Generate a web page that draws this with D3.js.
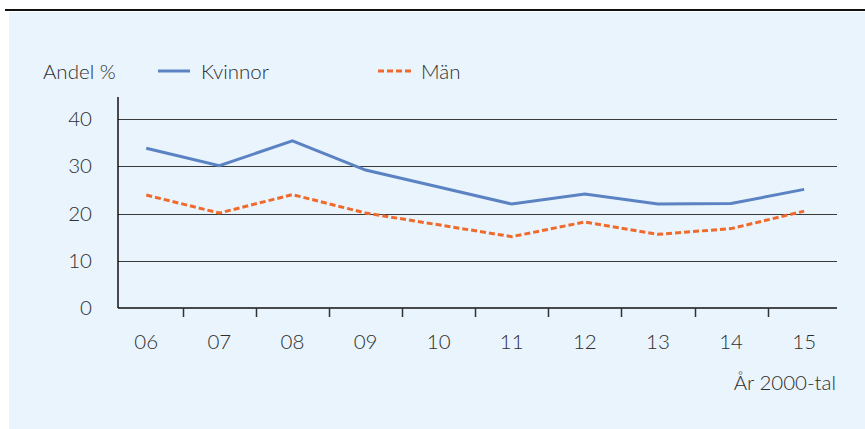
<!DOCTYPE html>
<html>
<head>
<meta charset="utf-8">
<script src="https://cdn.jsdelivr.net/npm/d3@7"></script>
<style>
  body { margin: 0; background: #fff; }
  svg { display: block; font-family: Lato, "Open Sans", sans-serif; }
  .lbl { fill: #2e2e2e; font-size: 20.5px; font-weight: 300; }
</style>
</head>
<body>
<svg width="865" height="429"></svg>
<script>
var years = ["06", "07", "08", "09", "10", "11", "12", "13", "14", "15"];
var kvinnor = [33.8, 30.1, 35.4, 29.2, 25.6, 22.0, 24.1, 22.0, 22.1, 25.1];
var man = [23.9, 20.1, 24.0, 20.1, 17.6, 15.1, 18.2, 15.6, 16.8, 20.5];
var yTicks = [0, 10, 20, 30, 40];

var svg = d3.select("svg");

// top rule and panel
svg.append("line")
    .attr("x1", 5).attr("x2", 865)
    .attr("y1", 10).attr("y2", 10)
    .attr("stroke", "#111").attr("stroke-width", 2);
svg.append("rect")
    .attr("x", 9).attr("y", 12)
    .attr("width", 856).attr("height", 417)
    .attr("fill", "#e9f4fd");

var x = d3.scaleBand().domain(years).range([109.7, 840.7]);
var y = d3.scaleLinear().domain([0, 40]).range([308, 119]);
var left = 118, right = 837;

// grid
svg.append("g")
    .selectAll("line")
    .data(yTicks.slice(1))
    .enter().append("line")
    .attr("x1", left).attr("x2", right)
    .attr("y1", function(d) { return Math.round(y(d)) + 0.5; })
    .attr("y2", function(d) { return Math.round(y(d)) + 0.5; })
    .attr("stroke", "#3a3a3a").attr("stroke-width", 1);

// y tick labels
svg.append("g")
    .selectAll("text")
    .data(yTicks)
    .enter().append("text")
    .attr("class", "lbl")
    .attr("x", 92)
    .attr("y", function(d) { return y(d); })
    .attr("dy", "0.35em")
    .attr("text-anchor", "end")
    .text(function(d) { return d; });

// y axis line
svg.append("line")
    .attr("x1", left).attr("x2", left)
    .attr("y1", 97).attr("y2", 308)
    .attr("stroke", "#111").attr("stroke-width", 1.5);

// x axis
svg.append("line")
    .attr("x1", left).attr("x2", right)
    .attr("y1", 308).attr("y2", 308)
    .attr("stroke", "#111").attr("stroke-width", 1.5);

svg.append("g")
    .selectAll("line")
    .data(years.slice(1))
    .enter().append("line")
    .attr("x1", function(d) { return Math.round(x(d)) + 0.5; })
    .attr("x2", function(d) { return Math.round(x(d)) + 0.5; })
    .attr("y1", 308).attr("y2", 317)
    .attr("stroke", "#333").attr("stroke-width", 1.5);

svg.append("g")
    .selectAll("text")
    .data(years)
    .enter().append("text")
    .attr("class", "lbl")
    .attr("x", function(d) { return x(d) + x.bandwidth() / 2; })
    .attr("y", 342)
    .attr("dy", "0.35em")
    .attr("text-anchor", "middle")
    .text(function(d) { return d; });

svg.append("text")
    .attr("class", "lbl")
    .attr("x", 836).attr("y", 383)
    .attr("dy", "0.35em")
    .attr("text-anchor", "end")
    .text("År 2000-tal");

// lines
var line = d3.line()
    .x(function(d, i) { return x(years[i]) + x.bandwidth() / 2; })
    .y(function(d) { return y(d); });

svg.append("path")
    .attr("d", line(kvinnor))
    .attr("fill", "none")
    .attr("stroke", "#5b82c2")
    .attr("stroke-width", 3);

svg.append("path")
    .attr("d", line(man))
    .attr("fill", "none")
    .attr("stroke", "#f06a2c")
    .attr("stroke-width", 3)
    .attr("stroke-dasharray", "6,3");

// legend
svg.append("text")
    .attr("class", "lbl")
    .attr("x", 43).attr("y", 72)
    .attr("dy", "0.35em")
    .text("Andel %");

svg.append("line")
    .attr("x1", 158).attr("x2", 190)
    .attr("y1", 71).attr("y2", 71)
    .attr("stroke", "#5b82c2").attr("stroke-width", 3);
svg.append("text")
    .attr("class", "lbl")
    .attr("x", 201).attr("y", 72)
    .attr("dy", "0.35em")
    .text("Kvinnor");

svg.append("line")
    .attr("x1", 378).attr("x2", 411)
    .attr("y1", 71).attr("y2", 71)
    .attr("stroke", "#f06a2c").attr("stroke-width", 3)
    .attr("stroke-dasharray", "6,3");
svg.append("text")
    .attr("class", "lbl")
    .attr("x", 421).attr("y", 72)
    .attr("dy", "0.35em")
    .text("Män");
</script>
</body>
</html>
